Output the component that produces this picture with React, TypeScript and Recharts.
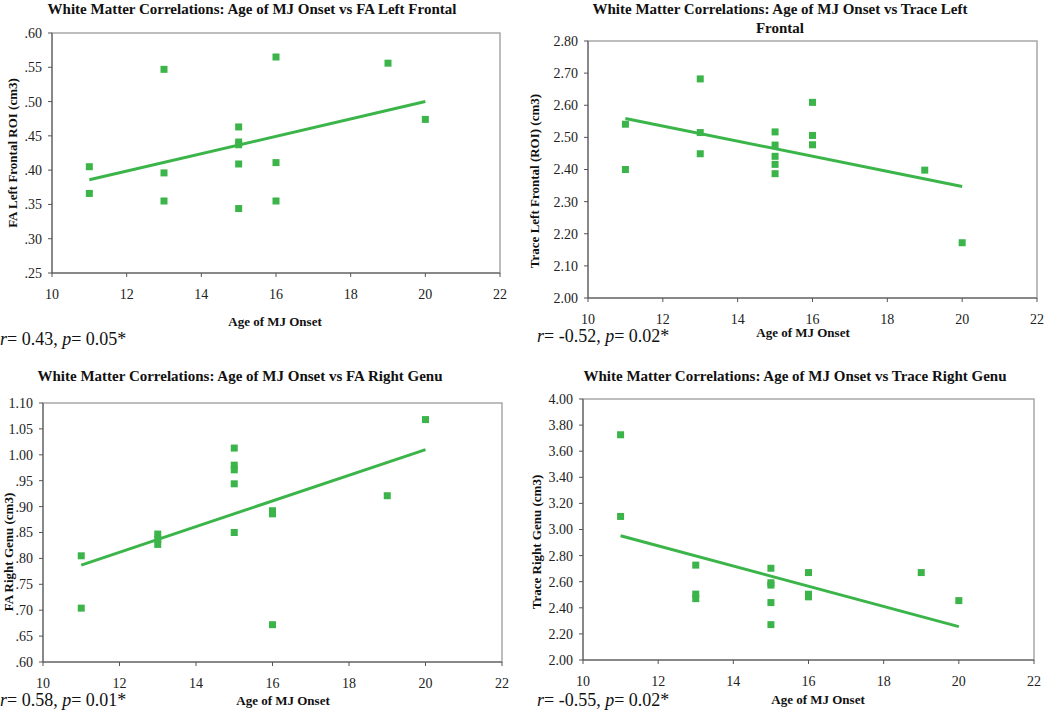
import { ScatterChart, Scatter, XAxis, YAxis, ReferenceArea } from "recharts";

// age of MJ onset (x) for each subject, per panel order
const onsetFaLeftFrontal = [11, 11, 13, 13, 13, 15, 15, 15, 15, 15, 16, 16, 16, 19, 20];
const faLeftFrontal = [0.405, 0.366, 0.547, 0.396, 0.355, 0.463, 0.441, 0.437, 0.409, 0.344, 0.565, 0.411, 0.355, 0.556, 0.474];

const onsetTraceLeftFrontal = [11, 11, 13, 13, 13, 15, 15, 15, 15, 15, 16, 16, 16, 19, 20];
const traceLeftFrontal = [2.541, 2.4, 2.682, 2.515, 2.449, 2.517, 2.476, 2.441, 2.416, 2.387, 2.609, 2.506, 2.477, 2.398, 2.172];

const onsetFaRightGenu = [11, 11, 13, 13, 13, 15, 15, 15, 15, 15, 16, 16, 16, 19, 20];
const faRightGenu = [0.805, 0.704, 0.847, 0.837, 0.827, 1.013, 0.98, 0.971, 0.944, 0.85, 0.892, 0.886, 0.672, 0.921, 1.068];

const onsetTraceRightGenu = [11, 11, 13, 13, 13, 15, 15, 15, 15, 15, 16, 16, 16, 19, 20];
const traceRightGenu = [3.726, 3.1, 2.727, 2.505, 2.47, 2.703, 2.592, 2.574, 2.44, 2.271, 2.67, 2.504, 2.484, 2.67, 2.455];

// fitted trend line end points
const trendX = [11, 20];
const trendFaLeftFrontal = [0.386, 0.5];
const trendTraceLeftFrontal = [2.559, 2.347];
const trendFaRightGenu = [0.787, 1.01];
const trendTraceRightGenu = [2.952, 2.256];

const xTicks = [10, 12, 14, 16, 18, 20, 22];
const ticksFaLeftFrontal = [0.25, 0.3, 0.35, 0.4, 0.45, 0.5, 0.55, 0.6];
const ticksTraceLeftFrontal = [2.0, 2.1, 2.2, 2.3, 2.4, 2.5, 2.6, 2.7, 2.8];
const ticksFaRightGenu = [0.6, 0.65, 0.7, 0.75, 0.8, 0.85, 0.9, 0.95, 1.0, 1.05, 1.1];
const ticksTraceRightGenu = [2.0, 2.2, 2.4, 2.6, 2.8, 3.0, 3.2, 3.4, 3.6, 3.8, 4.0];

const GREEN = "#3bb54a";
const FONT = "Liberation Serif, Times New Roman, serif";

const zip = (xs: number[], ys: number[]) => xs.map((x, i) => ({ x, y: ys[i] }));
const noLead = (v: number) => v.toFixed(2).replace(/^0/, "");
const fixed2 = (v: number) => v.toFixed(2);

const Square = (p: any) => <rect x={p.cx - 3.5} y={p.cy - 3.5} width={7} height={7} fill={GREEN} />;

type PanelProps = {
  plot: { l: number; t: number; r: number; b: number };
  xs: number[];
  ys: number[];
  trend: number[];
  yTicks: number[];
  fmt: (v: number) => string;
};

function Panel({ plot, xs, ys, trend, yTicks, fmt }: PanelProps) {
  const x0 = plot.l - 50;
  const y0 = plot.t - 10;
  const w = plot.r - x0 + 20;
  const h = plot.b - y0 + 40;
  const yMin = yTicks[0];
  const yMax = yTicks[yTicks.length - 1];
  return (
    <div style={{ position: "absolute", left: x0, top: y0 }}>
      <ScatterChart width={w} height={h} margin={{ top: 10, right: 20, bottom: 10, left: 0 }}>
        <ReferenceArea x1={10} x2={22} y1={yMin} y2={yMax} fill="none" stroke="#a8a8a8" strokeWidth={1.5} />
        <XAxis
          type="number"
          dataKey="x"
          domain={[10, 22]}
          ticks={xTicks}
          height={30}
          tickSize={4}
          tickMargin={12}
          stroke="#555"
          tick={{ fill: "#222", fontSize: 14, fontFamily: FONT }}
        />
        <YAxis
          type="number"
          dataKey="y"
          domain={[yMin, yMax]}
          ticks={yTicks}
          width={50}
          tickSize={4}
          tickMargin={6}
          stroke="#555"
          tickFormatter={fmt}
          tick={{ fill: "#222", fontSize: 14, fontFamily: FONT }}
        />
        <Scatter data={zip(xs, ys)} shape={Square} isAnimationActive={false} />
        <Scatter
          data={zip(trendX, trend)}
          line={{ stroke: GREEN, strokeWidth: 3 }}
          shape={() => <g />}
          isAnimationActive={false}
        />
      </ScatterChart>
    </div>
  );
}

const textBase = { position: "absolute" as const, fontFamily: FONT, color: "#111", whiteSpace: "nowrap" as const };

function Title({ x, y, lines }: { x: number; y: number; lines: string[] }) {
  return (
    <div style={{ ...textBase, left: x, top: y, transform: "translateX(-50%)", fontWeight: "bold", fontSize: 15, lineHeight: "19px", textAlign: "center" }}>
      {lines.map((l, i) => (
        <div key={i}>{l}</div>
      ))}
    </div>
  );
}

function XLabel({ x, y }: { x: number; y: number }) {
  return (
    <div style={{ ...textBase, left: x, top: y, transform: "translate(-50%, -50%)", fontWeight: "bold", fontSize: 13 }}>
      Age of MJ Onset
    </div>
  );
}

function YLabel({ x, y, text }: { x: number; y: number; text: string }) {
  return (
    <div style={{ ...textBase, left: x, top: y, transform: "translate(-50%, -50%) rotate(-90deg)", fontWeight: "bold", fontSize: 13 }}>
      {text}
    </div>
  );
}

function Stats({ x, y, r, p }: { x: number; y: number; r: string; p: string }) {
  return (
    <div style={{ ...textBase, left: x, top: y, transform: "translateY(-50%)", fontSize: 18 }}>
      <i>r</i>= {r}, <i>p</i>= {p}*
    </div>
  );
}

export default function App() {
  return (
    <div style={{ position: "absolute", left: 0, top: 0, width: 1050, height: 711, background: "#fff", overflow: "hidden" }}>
      <Panel plot={{ l: 52, t: 33, r: 500, b: 273 }} xs={onsetFaLeftFrontal} ys={faLeftFrontal} trend={trendFaLeftFrontal} yTicks={ticksFaLeftFrontal} fmt={noLead} />
      <Title x={252} y={0} lines={["White Matter Correlations: Age of MJ Onset vs FA Left Frontal"]} />
      <XLabel x={275} y={322} />
      <YLabel x={13} y={153} text="FA Left Frontal ROI (cm3)" />
      <Stats x={0} y={339} r="0.43" p="0.05" />

      <Panel plot={{ l: 588, t: 41, r: 1037, b: 298 }} xs={onsetTraceLeftFrontal} ys={traceLeftFrontal} trend={trendTraceLeftFrontal} yTicks={ticksTraceLeftFrontal} fmt={fixed2} />
      <Title x={780} y={0} lines={["White Matter Correlations: Age of MJ Onset vs Trace Left", "Frontal"]} />
      <XLabel x={803} y={333} />
      <YLabel x={535} y={181} text="Trace Left Frontal (ROI) (cm3)" />
      <Stats x={537} y={336} r="-0.52" p="0.02" />

      <Panel plot={{ l: 43, t: 403, r: 502, b: 662 }} xs={onsetFaRightGenu} ys={faRightGenu} trend={trendFaRightGenu} yTicks={ticksFaRightGenu} fmt={noLead} />
      <Title x={240} y={367} lines={["White Matter Correlations: Age of MJ Onset vs FA Right Genu"]} />
      <XLabel x={283} y={701} />
      <YLabel x={9} y={552} text="FA Right Genu (cm3)" />
      <Stats x={0} y={700} r="0.58" p="0.01" />

      <Panel plot={{ l: 583, t: 399, r: 1034, b: 660 }} xs={onsetTraceRightGenu} ys={traceRightGenu} trend={trendTraceRightGenu} yTicks={ticksTraceRightGenu} fmt={fixed2} />
      <Title x={795} y={367} lines={["White Matter Correlations: Age of MJ Onset vs Trace Right Genu"]} />
      <XLabel x={818} y={700} />
      <YLabel x={537} y={542} text="Trace Right Genu (cm3)" />
      <Stats x={537} y={700} r="-0.55" p="0.02" />
    </div>
  );
}
